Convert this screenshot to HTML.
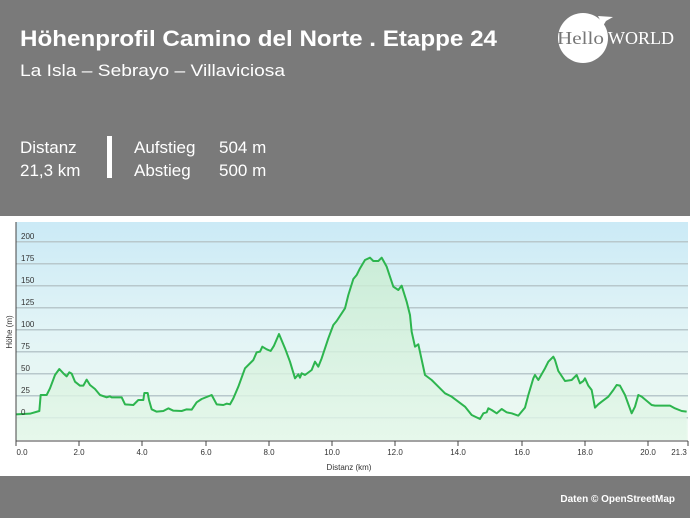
<!DOCTYPE html>
<html><head><meta charset="utf-8"><style>
html,body{margin:0;padding:0;width:690px;height:518px;overflow:hidden;background:#fff}
svg{display:block}
</style></head><body>
<svg width="690" height="518" viewBox="0 0 690 518" xmlns="http://www.w3.org/2000/svg" font-family="Liberation Sans, DejaVu Sans, sans-serif">
<defs>
<linearGradient id="bg" x1="0" y1="0" x2="0" y2="1">
<stop offset="0" stop-color="#cbeaf6"/><stop offset="0.5" stop-color="#e2f4f6"/><stop offset="1" stop-color="#eefaf0"/>
</linearGradient>
<linearGradient id="fl" x1="0" y1="0" x2="0" y2="1">
<stop offset="0" stop-color="#c8ecd0"/><stop offset="1" stop-color="#e4f7ea"/>
</linearGradient>
</defs>
<rect x="0" y="0" width="690" height="216" fill="#7a7a7a"/>
<text x="20" y="46" fill="#fff" font-size="22" font-weight="bold" textLength="477" lengthAdjust="spacingAndGlyphs">Höhenprofil Camino del Norte . Etappe 24</text>
<text x="20" y="76" fill="#fff" font-size="17" textLength="265" lengthAdjust="spacingAndGlyphs">La Isla – Sebrayo – Villaviciosa</text>
<circle cx="583" cy="38" r="25" fill="#fff"/>
<path d="M598 16 L613 17 L606 21 L603 26 Z" fill="#fff"/>
<text x="557" y="44" fill="#777" font-size="18" font-family="Liberation Serif, serif" textLength="47" lengthAdjust="spacingAndGlyphs">Hello</text>
<text x="608" y="44" fill="#fff" font-size="18" font-family="Liberation Serif, serif" textLength="66" lengthAdjust="spacingAndGlyphs">WORLD</text>
<text x="20" y="153" fill="#fff" font-size="17">Distanz</text>
<text x="20" y="176" fill="#fff" font-size="17">21,3 km</text>
<rect x="107" y="136" width="5" height="42" fill="#fff"/>
<text x="134" y="153" fill="#fff" font-size="17">Aufstieg</text>
<text x="134" y="176" fill="#fff" font-size="17">Abstieg</text>
<text x="219" y="153" fill="#fff" font-size="17">504 m</text>
<text x="219" y="176" fill="#fff" font-size="17">500 m</text>

<rect x="16" y="222" width="672" height="218" fill="url(#bg)"/>
<g stroke="#b8c8cc" stroke-width="1.5">
<line x1="16" y1="241.7" x2="688" y2="241.7"/><line x1="16" y1="263.7" x2="688" y2="263.7"/>
<line x1="16" y1="285.7" x2="688" y2="285.7"/><line x1="16" y1="307.7" x2="688" y2="307.7"/>
<line x1="16" y1="329.7" x2="688" y2="329.7"/><line x1="16" y1="351.7" x2="688" y2="351.7"/>
<line x1="16" y1="373.7" x2="688" y2="373.7"/><line x1="16" y1="395.7" x2="688" y2="395.7"/>
<line x1="16" y1="417.7" x2="688" y2="417.7"/>
</g>
<g transform="translate(0,215) scale(0.33333)">
<path fill="url(#fl)" fill-opacity="0.8" stroke="none" d="M47,598 L90,596 118,588 122,540 140,540 150,520 165,480 178,462 190,475 200,484 208,472 215,476 225,500 240,512 250,512 260,494 270,510 285,522 300,540 320,547 330,544 335,547 365,547 375,568 400,570 415,555 430,555 433,534 443,534 447,555 455,583 470,590 490,588 505,580 520,587 545,588 560,583 575,584 590,562 605,552 635,540 650,568 670,570 680,566 690,568 700,550 715,515 735,460 760,435 770,412 780,410 787,395 800,403 812,408 822,392 837,357 855,400 870,440 885,490 895,478 900,488 905,475 915,480 935,465 945,440 955,455 965,430 985,370 1000,330 1010,318 1035,280 1045,240 1060,192 1070,180 1080,160 1095,135 1110,128 1120,138 1135,138 1145,128 1160,155 1180,215 1195,225 1205,212 1220,260 1230,300 1235,350 1245,395 1255,388 1275,480 1295,495 1320,520 1335,535 1355,545 1375,560 1395,575 1415,600 1440,612 1450,595 1460,592 1465,580 1475,585 1490,595 1505,582 1520,592 1535,595 1555,602 1575,578 1585,540 1600,490 1605,480 1615,495 1635,460 1645,440 1660,425 1665,435 1675,468 1695,498 1715,495 1730,480 1740,505 1750,498 1755,490 1765,512 1775,525 1785,578 1795,568 1805,560 1825,545 1840,525 1850,510 1860,512 1875,540 1895,595 1905,575 1915,540 1925,545 1955,570 1965,572 2010,572 2025,580 2045,588 2060,590 L2060,675 L47,675 Z"/>
<path fill="none" stroke="#2db54e" stroke-width="6" stroke-linejoin="round" d="M47,598 L90,596 118,588 122,540 140,540 150,520 165,480 178,462 190,475 200,484 208,472 215,476 225,500 240,512 250,512 260,494 270,510 285,522 300,540 320,547 330,544 335,547 365,547 375,568 400,570 415,555 430,555 433,534 443,534 447,555 455,583 470,590 490,588 505,580 520,587 545,588 560,583 575,584 590,562 605,552 635,540 650,568 670,570 680,566 690,568 700,550 715,515 735,460 760,435 770,412 780,410 787,395 800,403 812,408 822,392 837,357 855,400 870,440 885,490 895,478 900,488 905,475 915,480 935,465 945,440 955,455 965,430 985,370 1000,330 1010,318 1035,280 1045,240 1060,192 1070,180 1080,160 1095,135 1110,128 1120,138 1135,138 1145,128 1160,155 1180,215 1195,225 1205,212 1220,260 1230,300 1235,350 1245,395 1255,388 1275,480 1295,495 1320,520 1335,535 1355,545 1375,560 1395,575 1415,600 1440,612 1450,595 1460,592 1465,580 1475,585 1490,595 1505,582 1520,592 1535,595 1555,602 1575,578 1585,540 1600,490 1605,480 1615,495 1635,460 1645,440 1660,425 1665,435 1675,468 1695,498 1715,495 1730,480 1740,505 1750,498 1755,490 1765,512 1775,525 1785,578 1795,568 1805,560 1825,545 1840,525 1850,510 1860,512 1875,540 1895,595 1905,575 1915,540 1925,545 1955,570 1965,572 2010,572 2025,580 2045,588 2060,590"/>
</g>
<g stroke="#444" stroke-width="1">
<line x1="16" y1="222" x2="16" y2="442"/><line x1="16" y1="441" x2="688" y2="441"/>
<line x1="16" y1="441" x2="16" y2="446"/><line x1="79" y1="441" x2="79" y2="446"/>
<line x1="142" y1="441" x2="142" y2="446"/><line x1="206" y1="441" x2="206" y2="446"/>
<line x1="269" y1="441" x2="269" y2="446"/><line x1="332" y1="441" x2="332" y2="446"/>
<line x1="395" y1="441" x2="395" y2="446"/><line x1="458" y1="441" x2="458" y2="446"/>
<line x1="522" y1="441" x2="522" y2="446"/><line x1="585" y1="441" x2="585" y2="446"/>
<line x1="648" y1="441" x2="648" y2="446"/><line x1="688" y1="441" x2="688" y2="446"/>
</g>
<g font-size="8" fill="#333">
<text x="21" y="239">200</text><text x="21" y="261">175</text><text x="21" y="283">150</text>
<text x="21" y="305">125</text><text x="21" y="327">100</text><text x="21" y="349">75</text>
<text x="21" y="371">50</text><text x="21" y="393">25</text><text x="21" y="415">0</text>
</g>
<g font-size="8" fill="#333" text-anchor="middle">
<text x="22" y="455">0.0</text><text x="79" y="455">2.0</text><text x="142" y="455">4.0</text>
<text x="206" y="455">6.0</text><text x="269" y="455">8.0</text><text x="332" y="455">10.0</text>
<text x="395" y="455">12.0</text><text x="458" y="455">14.0</text><text x="522" y="455">16.0</text>
<text x="585" y="455">18.0</text><text x="648" y="455">20.0</text><text x="679" y="455">21.3</text>
<text x="349" y="470">Distanz  (km)</text>
</g>
<text transform="translate(12,332) rotate(-90)" font-size="8" fill="#333" text-anchor="middle">Höhe (m)</text>
<rect x="0" y="476" width="690" height="42" fill="#7a7a7a"/>
<text x="675" y="502" fill="#fff" font-size="10" font-weight="bold" text-anchor="end">Daten © OpenStreetMap</text>
</svg>
</body></html>
